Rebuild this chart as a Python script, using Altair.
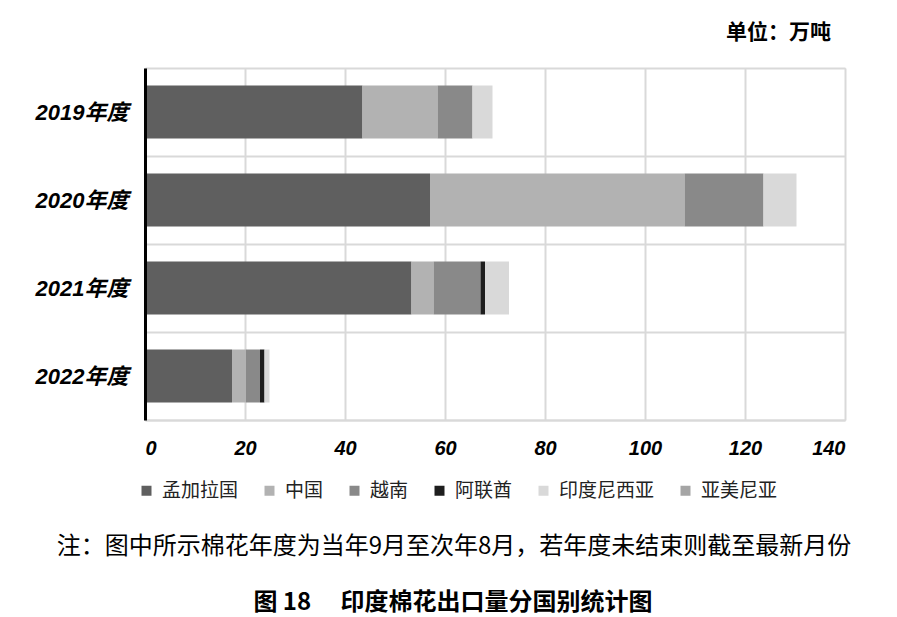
import altair as alt
import pandas as pd

years = ["2019年度", "2020年度", "2021年度", "2022年度"]
countries = ["孟加拉国", "中国", "越南", "阿联酋", "印度尼西亚", "亚美尼亚"]
bangladesh = [43.5, 57.0, 53.3, 17.4]
china = [15.0, 50.9, 4.4, 2.8]
vietnam = [7.0, 15.8, 9.4, 2.8]
uae = [0.0, 0.0, 0.9, 0.9]
indonesia = [4.0, 6.6, 4.8, 1.0]
armenia = [0.0, 0.0, 0.0, 0.0]
colors = ["#5f5f5f", "#b2b2b2", "#898989", "#1e1e1e", "#d9d9d9", "#a5a5a5"]
x_ticks = [0, 20, 40, 60, 80, 100, 120, 140]

unit_text = "单位：万吨"
note_text = "注：图中所示棉花年度为当年9月至次年8月，若年度未结束则截至最新月份"
fig_title = "图\u00a018\u00a0\u3000印度棉花出口量分国别统计图"

series = [bangladesh, china, vietnam, uae, indonesia, armenia]
rows = []
for ci, (c, vals) in enumerate(zip(countries, series)):
    for y, v in zip(years, vals):
        rows.append({"year": y, "country": c, "value": v, "idx": ci})
df = pd.DataFrame(rows)

LAT = "Liberation Sans, 'Noto Sans CJK SC'"
CJK = "'Noto Sans CJK SC'"

bars = alt.Chart(df).mark_bar(size=53).encode(
    x=alt.X(
        "value:Q",
        stack="zero",
        scale=alt.Scale(domain=[0, 140], nice=False),
        axis=alt.Axis(
            values=x_ticks, title=None, grid=True, gridColor="#d9d9d9", gridWidth=2,
            domainColor="#d9d9d9", domainWidth=2, ticks=False,
            labelFont=LAT, labelFontWeight="bold", labelFontStyle="italic",
            labelFontSize=20, labelPadding=18, labelColor="black", zindex=0,
        ),
    ),
    y=alt.Y(
        "year:N",
        sort=years,
        scale=alt.Scale(paddingInner=0, paddingOuter=0),
        axis=alt.Axis(
            title=None, tickBand="extent", grid=True, gridColor="#d9d9d9", gridWidth=2,
            domainColor="black", domainWidth=3, ticks=False,
            labelFont=LAT, labelFontWeight="bold", labelFontStyle="italic",
            labelFontSize=22, labelPadding=17, labelColor="black", zindex=1,
        ),
    ),
    color=alt.Color(
        "country:N",
        scale=alt.Scale(domain=countries, range=colors),
        legend=alt.Legend(
            title=None, orient="none", legendX=-8, legendY=413, direction="horizontal",
            symbolType="square", symbolSize=100, symbolStrokeWidth=0,
            labelFont=CJK, labelFontSize=19, labelColor="#222222",
            columnPadding=21, labelOffset=6, padding=0,
        ),
    ),
    order=alt.Order("idx:Q"),
)

unit = alt.Chart(pd.DataFrame({"t": [unit_text]})).mark_text(
    font=CJK, fontSize=21, fontWeight="bold", align="right", baseline="middle", color="black"
).encode(text="t:N", x=alt.value(686), y=alt.value(-35))

note = alt.Chart(pd.DataFrame({"t": [note_text]})).mark_text(
    font=CJK, fontSize=24, align="center", baseline="middle", color="black"
).encode(text="t:N", x=alt.value(309), y=alt.value(479))

title = alt.Chart(pd.DataFrame({"t": [fig_title]})).mark_text(
    font=CJK, fontSize=24, fontWeight="bold", align="center", baseline="middle", color="black"
).encode(text="t:N", x=alt.value(308), y=alt.value(535))

chart = alt.layer(bars, unit, note, title).properties(
    width=700, height=352,
    autosize=alt.AutoSizeParams(type="none"),
    padding={"left": 137, "top": 60, "right": 40, "bottom": 200},
).configure_view(stroke=None).configure(background="white")

chart.save("out.html", embed_options={"renderer": "svg", "actions": False})
